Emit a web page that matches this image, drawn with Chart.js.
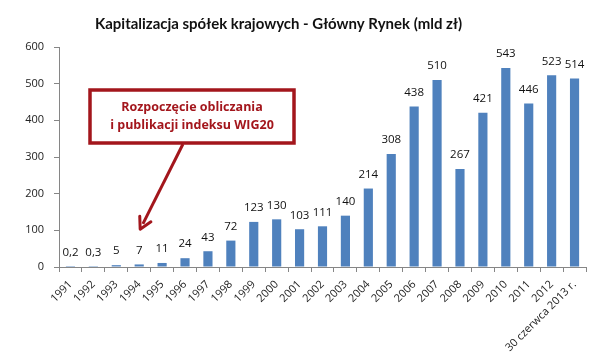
<!DOCTYPE html>
<html>
<head>
<meta charset="utf-8">
<script src="https://cdn.jsdelivr.net/npm/chart.js@4"></script>
<style>
html,body{margin:0;padding:0;background:#fff;}
#wrap{width:600px;height:359px;position:relative;}
</style>
</head>
<body>
<div id="wrap"><canvas id="c" width="600" height="359"></canvas></div>
<script>
const categories = ["1991","1992","1993","1994","1995","1996","1997","1998","1999","2000","2001","2002","2003","2004","2005","2006","2007","2008","2009","2010","2011","2012","30 czerwca 2013 r."];
const values = [0.2,0.3,5,7,11,24,43,72,123,130,103,111,140,214,308,438,510,267,421,543,446,523,514];
const yTicks = [0,100,200,300,400,500,600];
const titleText = "Kapitalizacja spółek krajowych - Główny Rynek (mld zł)";
const noteLines = ["Rozpoczęcie obliczania","i publikacji indeksu WIG20"];

const FONT = "'Open Sans', 'Liberation Sans', sans-serif";
const TFONT = "Lato, 'Open Sans', sans-serif";
const RED = "#a3161c";

const overlay = {
  id:'overlay',
  afterDatasetsDraw(chart){
    const ctx = chart.ctx, xs = chart.scales.x, ys = chart.scales.y;
    ctx.save();
    // data labels
    ctx.fillStyle = "#111";
    ctx.font = "11.5px " + FONT;
    ctx.textAlign = "center";
    ctx.textBaseline = "middle";
    values.forEach((v,i)=>{
      const x = xs.getPixelForValue(i);
      const y = ys.getPixelForValue(v);
      ctx.fillText(String(v).replace('.',','), x, y-14);
    });
    // title, sized to the reference width
    let fs = 17;
    ctx.font = "bold " + fs + "px " + TFONT;
    const w = ctx.measureText(titleText).width;
    fs = fs * 367 / w;
    ctx.font = "bold " + fs.toFixed(2) + "px " + TFONT;
    ctx.fillStyle = "#111";
    ctx.fillText(titleText, 278.5, 24);
    // annotation box
    const bx=90, by=90, bw=204, bh=53;
    ctx.fillStyle="#fff";
    ctx.fillRect(bx,by,bw,bh);
    ctx.strokeStyle = RED; ctx.lineWidth = 3.5;
    ctx.strokeRect(bx,by,bw,bh);
    ctx.fillStyle = RED;
    ctx.font = "bold 12.5px " + FONT;
    ctx.fillText(noteLines[0], bx+bw/2, by+17);
    ctx.fillText(noteLines[1], bx+bw/2, by+35);
    // arrow
    const sx = 183, sy = by+bh+1;
    const tx = xs.getPixelForValue(3)+1, ty = ys.getPixelForValue(103);
    const ang = Math.atan2(ty-sy, tx-sx);
    ctx.strokeStyle = RED; ctx.lineWidth = 3;
    ctx.beginPath(); ctx.moveTo(sx,sy);
    ctx.lineTo(tx - 6*Math.cos(ang), ty - 6*Math.sin(ang)); ctx.stroke();
    const L=13, W=0.5;
    ctx.lineWidth = 3; ctx.lineCap='round'; ctx.lineJoin='round';
    ctx.beginPath();
    ctx.moveTo(tx - L*Math.cos(ang-W), ty - L*Math.sin(ang-W));
    ctx.lineTo(tx, ty);
    ctx.lineTo(tx - L*Math.cos(ang+W), ty - L*Math.sin(ang+W));
    ctx.stroke();
    ctx.restore();
  }
};

new Chart(document.getElementById('c'), {
  type:'bar',
  data:{labels:categories, datasets:[{data:values, backgroundColor:"#4f81bd", categoryPercentage:1, barPercentage:0.4}]},
  options:{
    responsive:false, animation:false,
    layout:{padding:{left:0,right:14,top:47,bottom:0}},
    plugins:{legend:{display:false}, tooltip:{enabled:false}, title:{display:false}},
    scales:{
      x:{
        offset:true,
        grid:{display:true, drawOnChartArea:false, offset:true, color:"#868686", tickLength:5},
        border:{display:true, color:"#868686"},
        ticks:{color:"#222", font:{family:FONT, size:11}, maxRotation:45, minRotation:45, autoSkip:false, padding:6},
        afterFit(s){ s.height = 92; }
      },
      y:{
        min:0, max:600,
        afterBuildTicks(s){ s.ticks = yTicks.map(v=>({value:v})); },
        grid:{display:true, drawOnChartArea:false, color:"#868686", tickLength:5},
        border:{display:true, color:"#868686"},
        ticks:{color:"#222", font:{family:FONT, size:11}, padding:10},
        afterFit(s){ s.width = 59; }
      }
    }
  },
  plugins:[overlay]
});
</script>
</body>
</html>
